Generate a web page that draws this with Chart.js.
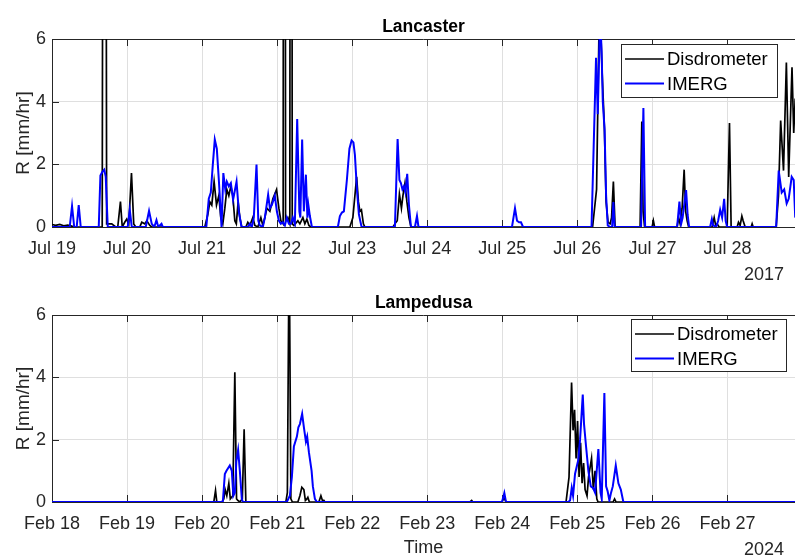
<!DOCTYPE html>
<html>
<head>
<meta charset="utf-8">
<script src="https://cdn.jsdelivr.net/npm/chart.js@4.4.0/dist/chart.umd.min.js"></script>
<style>
  body { margin: 0; background: #fff; }
  canvas { position: absolute; left: 0; }
</style>
</head>
<body>
<canvas id="chartLancaster" width="795" height="280" style="top:0px"></canvas>
<canvas id="chartLampedusa" width="795" height="277" style="top:280px"></canvas>
<script>
// time = days since the first tick, R in mm/hr
const julLabels = ["Jul 19", "Jul 20", "Jul 21", "Jul 22", "Jul 23", "Jul 24", "Jul 25", "Jul 26", "Jul 27", "Jul 28"];
const febLabels = ["Feb 18", "Feb 19", "Feb 20", "Feb 21", "Feb 22", "Feb 23", "Feb 24", "Feb 25", "Feb 26", "Feb 27"];
const yTicks = [0, 2, 4, 6];
const xMaxDays = 9.9;

const lancDisT = [
  0, 0.049, 0.103, 0.156, 0.209, 0.263, 0.289,
  0.669, 0.699, 0.728, 0.796, 0.849,
  0.876, 0.912, 0.936,
  0.969, 0.996, 1.023, 1.059, 1.089, 1.116,
  1.169, 1.196, 1.236, 1.263, 1.303, 1.329,
  2.036, 2.076, 2.103, 2.129, 2.16, 2.192, 2.223, 2.249, 2.276, 2.303, 2.329, 2.356, 2.383, 2.409, 2.436, 2.456, 2.48, 2.503, 2.529,
  2.583, 2.609, 2.636, 2.676, 2.703, 2.743, 2.783, 2.809, 2.836, 2.863, 2.903, 2.943, 2.992, 3.023, 3.049, 3.08, 3.096, 3.112, 3.143, 3.169, 3.185, 3.201, 3.223, 3.276, 3.303, 3.343, 3.369, 3.396, 3.423, 3.449,
  3.969, 4.009, 4.059, 4.083, 4.103, 4.123, 4.149, 4.169,
  4.543, 4.569, 4.6, 4.629, 4.656, 4.676, 4.703, 4.729, 4.756, 4.783,
  7.203, 7.256, 7.296, 7.329, 7.36, 7.383, 7.409, 7.436, 7.456, 7.48, 7.503,
  7.836, 7.859, 7.876, 7.896,
  7.996, 8.013, 8.029,
  8.329, 8.349, 8.369, 8.396, 8.423, 8.443, 8.463, 8.483,
  8.796, 8.823, 8.843, 8.863, 8.889,
  8.996, 9.027, 9.049,
  9.129, 9.147, 9.169, 9.192, 9.209, 9.236,
  9.316, 9.329, 9.343,
  9.649, 9.68, 9.709, 9.747, 9.785, 9.816, 9.86, 9.883, 9.903
];
const lancDisR = [
  0.08, 0.05, 0.08, 0.04, 0.06, 0.03, 0,
  0, 45, 0.1, 0.1, 0,
  0, 0.81, 0,
  0.15, 0.25, 0.1, 1.72, 0.1, 0,
  0, 0.15, 0.1, 0.2, 0.05, 0,
  0, 0.4, 0.8, 0.7, 1.45, 0.7, 1.0, 0.3, 0.1, 0.6, 1.2, 1.0, 1.3, 1.0, 0.2, 0.1, 0.8, 0.3, 0,
  0, 0.15, 0.05, 0.3, 0.05, 0, 0.3, 0.05, 0.3, 0.6, 0.5, 0.9, 1.19, 0.6, 0.2, 0.1, 60, 0.2, 0.3, 0.1, 60, 0.1, 0.05, 0.2, 0.1, 0.3, 0.1, 0.25, 0.05, 0,
  0, 0.3, 1.6, 0.8, 0.5, 0.55, 0.1, 0,
  0, 0.1, 0.2, 1.05, 0.6, 1.0, 1.4, 0.8, 0.3, 0,
  0, 1.2, 7.5, 5, 3.2, 0.8, 0.15, 0.1, 0.3, 1.45, 0,
  0, 3.37, 0.5, 0,
  0, 0.2, 0,
  0, 0.3, 0.1, 0.6, 1.83, 0.5, 0.2, 0,
  0, 0.3, 0.05, 0.1, 0,
  0, 3.32, 0,
  0, 0.15, 0.05, 0.35, 0.2, 0,
  0, 0.1, 0,
  0, 1.0, 3.4, 1.8, 5.25, 1.6, 5.1, 3.0, 4.1
];

const lancImT = [
  0, 0.236, 0.267, 0.296, 0.329, 0.356, 0.383,
  0.623, 0.645, 0.669, 0.696, 0.716, 0.743,
  1.009, 1.036, 1.063,
  1.249, 1.293, 1.329, 1.363, 1.392, 1.416, 1.459, 1.476,
  2.056, 2.089, 2.116, 2.143, 2.169, 2.196, 2.223, 2.259, 2.283, 2.309, 2.329, 2.356, 2.383, 2.413, 2.459, 2.489, 2.525,
  2.609, 2.636, 2.663, 2.689, 2.725, 2.749, 2.769, 2.809, 2.836, 2.88, 2.903, 2.929, 2.969, 2.996, 3.023, 3.049, 3.076, 3.103, 3.129, 3.156, 3.183, 3.209, 3.236, 3.267, 3.296, 3.309, 3.333, 3.356, 3.383, 3.403, 3.416, 3.436, 3.463,
  3.809, 3.836, 3.863, 3.889, 3.929, 3.963, 3.992, 4.016, 4.036, 4.063, 4.089, 4.125,
  4.569, 4.605, 4.629, 4.649, 4.669, 4.689, 4.709, 4.733, 4.756, 4.783, 4.836, 4.863, 4.883,
  6.129, 6.169, 6.196, 6.223, 6.249, 6.276,
  7.189, 7.249, 7.272, 7.303, 7.323, 7.339, 7.363, 7.383, 7.405, 7.436, 7.463, 7.48, 7.496,
  7.849, 7.88, 7.903,
  8.329, 8.36, 8.383, 8.403, 8.429, 8.449, 8.469, 8.489,
  8.769, 8.792, 8.809, 8.849, 8.876, 8.903, 8.929, 8.956, 8.976, 8.996,
  9.649, 9.683, 9.723, 9.756, 9.789, 9.816, 9.856, 9.883, 9.903
];
const lancImR = [
  0, 0, 0.67, 0, 0, 0.7, 0,
  0, 1.64, 1.75, 1.83, 1.6, 0,
  0, 0.55, 0,
  0, 0.51, 0.1, 0, 0.22, 0, 0.1, 0,
  0, 0.9, 1.1, 2.0, 2.79, 2.5, 1.5, 0, 1.72, 1.2, 1.45, 1.3, 1.4, 0.87, 1.45, 0.5, 0,
  0, 0.1, 0, 0.3, 1.99, 0.2, 0.05, 0, 0.3, 1.03, 0.6, 0.7, 1.0, 0.5, 0.2, 0.1, 0.15, 0.05, 0.3, 0.1, 0.1, 0.3, 0.1, 3.45, 0.5, 0.3, 2.79, 0.5, 1.67, 0.3, 0.7, 0.35, 0,
  0, 0.35, 0.46, 0.5, 1.5, 2.5, 2.76, 2.7, 2.3, 1.2, 0.4, 0,
  0, 2.81, 1.5, 1.4, 1.2, 1.3, 1.1, 1.7, 0.7, 0, 0, 0.35, 0,
  0, 0.6, 0.2, 0.15, 0.15, 0,
  0, 5.4, 3.6, 6.8, 5.6, 4.0, 3.1, 1.0, 0.05, 0, 0, 0.8, 0,
  0, 3.8, 0,
  0, 0.81, 0.1, 0.3, 0.8, 1.18, 0.4, 0,
  0, 0.25, 0.05, 0, 0.2, 0.55, 0.3, 0.9, 0.2, 0,
  0, 1.8, 1.1, 1.2, 0.75, 0.9, 1.6, 1.5, 0.3
];

const lampDisT = [
  0, 2.156, 2.179, 2.196,
  2.263, 2.289, 2.307, 2.329, 2.356, 2.376, 2.409, 2.436, 2.459, 2.476, 2.503, 2.536, 2.56, 2.583,
  3.116, 3.136, 3.16, 3.183, 3.203,
  3.276, 3.303, 3.329, 3.356, 3.376, 3.396, 3.409, 3.429,
  3.556, 3.583, 3.603, 3.623, 3.636,
  5.569, 5.592, 5.609,
  5.996, 6.023, 6.049,
  6.849, 6.889, 6.923, 6.943, 6.963, 6.983, 7.003, 7.023, 7.043, 7.063, 7.083, 7.103, 7.129, 7.149, 7.189, 7.213, 7.236, 7.259, 7.276,
  7.476, 7.496, 7.516, 9.903
];
const lampDisR = [
  0, 0, 0.37, 0,
  0, 0.1, 0.4, 0.2, 0.6, 0.1, 0.2, 4.16, 0.1, 0.05, 0, 0.1, 2.33, 0,
  0, 0.3, 8.5, 0.1, 0,
  0, 0.2, 0.47, 0.4, 0.05, 0.1, 0.15, 0,
  0, 0.2, 0.05, 0.05, 0,
  0, 0.05, 0,
  0, 0.15, 0,
  0, 0.8, 3.83, 2.3, 2.96, 1.4, 2.6, 0.8, 1.9, 0.6, 1.25, 0.4, 0.2, 0.8, 1.4, 0.4, 1.0, 0.1, 0,
  0, 0.1, 0, 0
];

const lampImT = [
  0, 2.276, 2.303, 2.325, 2.369, 2.396, 2.416, 2.436, 2.456, 2.48, 2.503, 2.529, 2.543,
  3.129, 3.169, 3.196, 3.223, 3.263, 3.283, 3.303, 3.333, 3.356, 3.383, 3.4, 3.423, 3.459, 3.476, 3.503, 3.529,
  5.996, 6.027, 6.049,
  6.876, 6.903, 6.925, 6.943, 6.969, 7.013, 7.036, 7.072, 7.089, 7.116, 7.147, 7.179, 7.209, 7.236, 7.28, 7.309, 7.325, 7.36, 7.383, 7.403, 7.427, 7.449, 7.472, 7.512, 7.547, 7.579, 7.613, 9.903
];
const lampImR = [
  0, 0, 0.9, 1.0, 1.17, 1.0, 0.2, 0.3, 1.3, 1.67, 1.0, 0.1, 0,
  0, 0.2, 0.8, 1.78, 2.1, 2.4, 2.5, 2.83, 2.4, 1.94, 2.1, 1.6, 1.0, 0.5, 0.1, 0,
  0, 0.29, 0,
  0, 0.05, 0.45, 0.2, 0.9, 1.36, 2.0, 3.45, 2.5, 1.78, 1.0, 0.5, 0.45, 0.3, 1.7, 0.3, 0.1, 3.5, 0.5, 0.35, 0.05, 0.3, 0.5, 1.17, 0.6, 0.4, 0, 0
];

const FONT = "'Liberation Sans', Arial, Helvetica, sans-serif";
const AXIS_COLOR = "#262626";
const GRID_COLOR = "#dfdfdf";

Chart.defaults.font.family = FONT;

function toPoints(t, r) {
  return t.map((x, i) => ({ x: x, y: r[i] }));
}

// MATLAB-like box, inner ticks, titles, year label and legend
const matlabLook = {
  id: "matlabLook",
  beforeDatasetsDraw(chart) {
    const { ctx, chartArea: a, scales } = chart;
    ctx.save();
    ctx.strokeStyle = AXIS_COLOR;
    ctx.lineWidth = 1;
    ctx.beginPath();
    ctx.moveTo(a.left, a.top + 0.5);
    ctx.lineTo(a.right, a.top + 0.5);
    scales.x.ticks.forEach(t => {
      const x = Math.round(scales.x.getPixelForValue(t.value)) + 0.5;
      ctx.moveTo(x, a.top);
      ctx.lineTo(x, a.top + 7);
      ctx.moveTo(x, a.bottom);
      ctx.lineTo(x, a.bottom - 7);
    });
    scales.y.ticks.forEach(t => {
      const y = Math.round(scales.y.getPixelForValue(t.value)) + 0.5;
      ctx.moveTo(a.left, y);
      ctx.lineTo(a.left + 7, y);
    });
    ctx.stroke();
    ctx.restore();
  },
  afterDraw(chart, args, opts) {
    const { ctx, chartArea: a } = chart;
    const midX = (a.left + a.right) / 2;
    ctx.save();
    ctx.fillStyle = "#000";
    ctx.textBaseline = "alphabetic";

    ctx.font = "bold 17.5px " + FONT;
    ctx.textAlign = "center";
    ctx.fillText(opts.title, midX, a.top - 7.5);

    ctx.fillStyle = AXIS_COLOR;
    ctx.font = "19px " + FONT;
    ctx.save();
    ctx.translate(28.5, (a.top + a.bottom) / 2);
    ctx.rotate(-Math.PI / 2);
    ctx.textAlign = "center";
    ctx.fillText("R [mm/hr]", 0, 0);
    ctx.restore();

    ctx.font = "18px " + FONT;
    ctx.textAlign = "right";
    ctx.fillText(opts.year, 784, opts.yearY);
    if (opts.xTitle) {
      ctx.textAlign = "center";
      ctx.fillText(opts.xTitle, midX, opts.xTitleY);
    }

    // legend box
    const b = opts.legendBox;
    ctx.fillStyle = "#fff";
    ctx.fillRect(b.x, b.y, b.w, b.h);
    ctx.strokeStyle = AXIS_COLOR;
    ctx.lineWidth = 1;
    ctx.strokeRect(b.x + 0.5, b.y + 0.5, b.w, b.h);
    chart.data.datasets.forEach((ds, i) => {
      const y = b.y + 15 + i * 24.5;
      ctx.strokeStyle = ds.borderColor;
      ctx.lineWidth = ds.borderWidth;
      ctx.beginPath();
      ctx.moveTo(b.x + 4, y);
      ctx.lineTo(b.x + 43, y);
      ctx.stroke();
      ctx.fillStyle = "#000";
      ctx.textAlign = "left";
      ctx.textBaseline = "middle";
      ctx.font = "18.5px " + FONT;
      ctx.fillText(ds.label, b.x + 46, y + 1);
    });
    ctx.restore();
  }
};

function buildPanel(canvasId, cfg) {
  const tickFont = { family: FONT, size: 18 };
  return new Chart(document.getElementById(canvasId), {
    type: "line",
    data: {
      datasets: [
        { label: "Disdrometer", data: toPoints(cfg.disT, cfg.disR), borderColor: "#000000", borderWidth: 1.7, order: 2 },
        { label: "IMERG", data: toPoints(cfg.imT, cfg.imR), borderColor: "#0000ff", borderWidth: 2, order: 1 }
      ]
    },
    options: {
      responsive: false,
      animation: false,
      events: [],
      layout: { padding: { top: cfg.top, left: 0, right: 0, bottom: 0 } },
      elements: { point: { radius: 0 }, line: { tension: 0, fill: false } },
      scales: {
        x: {
          type: "linear",
          min: 0,
          max: xMaxDays,
          afterBuildTicks: s => { s.ticks = cfg.labels.map((_, i) => ({ value: i })); },
          afterFit: s => { s.height = cfg.xAxisHeight; },
          ticks: {
            callback: v => cfg.labels[Math.round(v)],
            font: tickFont, color: AXIS_COLOR, padding: 11, maxRotation: 0, autoSkip: false
          },
          grid: { color: GRID_COLOR, drawTicks: false },
          border: { color: AXIS_COLOR, width: 1 }
        },
        y: {
          min: 0,
          max: 6,
          afterBuildTicks: s => { s.ticks = yTicks.map(v => ({ value: v })); },
          afterFit: s => { s.width = 52; },
          ticks: { font: tickFont, color: AXIS_COLOR, padding: 6 },
          grid: { color: GRID_COLOR, drawTicks: false },
          border: { color: AXIS_COLOR, width: 1 }
        }
      },
      plugins: {
        legend: { display: false },
        tooltip: { enabled: false },
        matlabLook: cfg.look
      }
    },
    plugins: [matlabLook]
  });
}

buildPanel("chartLancaster", {
  labels: julLabels, disT: lancDisT, disR: lancDisR, imT: lancImT, imR: lancImR,
  top: 39, xAxisHeight: 53,
  look: { title: "Lancaster", year: "2017", yearY: 279.5, legendBox: { x: 621, y: 44, w: 156, h: 53 } }
});

buildPanel("chartLampedusa", {
  labels: febLabels, disT: lampDisT, disR: lampDisR, imT: lampImT, imR: lampImR,
  top: 35, xAxisHeight: 55,
  look: { title: "Lampedusa", year: "2024", yearY: 275, xTitle: "Time", xTitleY: 273, legendBox: { x: 631, y: 39, w: 155, h: 52 } }
});
</script>
</body>
</html>
